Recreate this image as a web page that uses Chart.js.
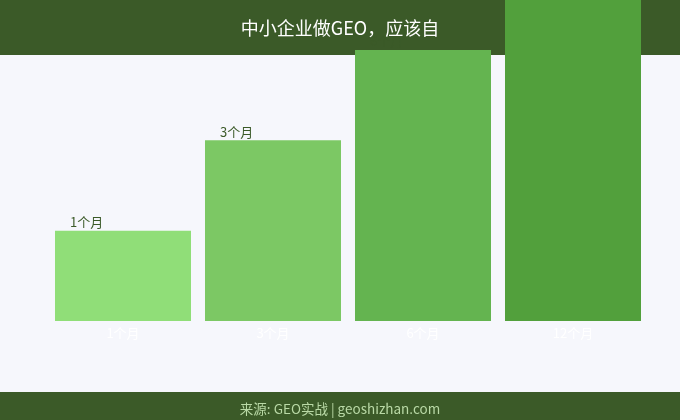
<!DOCTYPE html>
<html>
<head>
<meta charset="utf-8">
<script src="https://cdn.jsdelivr.net/npm/chart.js@4"></script>
<style>
  html, body { margin: 0; padding: 0; background: #f6f7fc; }
  #wrap { width: 680px; height: 420px; position: relative; }
</style>
</head>
<body>
<div id="wrap"><canvas id="chart" width="680" height="420"></canvas></div>
<script>
const titleText = '中小企业做GEO，应该自';
const sourceText = '来源: GEO实战 | geoshizhan.com';
const categories = ['1个月', '3个月', '6个月', '12个月'];
const values = [1, 2, 3, 4];
const barColors = ['#90de78', '#7cc864', '#64b450', '#52a03c'];

const FONT = '"Noto Sans CJK SC", "Noto Sans", sans-serif';

// header / footer bands are painted before the bars so bars can run over them
const framePlugin = {
    id: 'frame',
    beforeDraw(chart) {
        const ctx = chart.ctx;
        const w = chart.width, h = chart.height;
        ctx.save();
        ctx.fillStyle = '#f6f7fc';
        ctx.fillRect(0, 0, w, h);
        ctx.fillStyle = '#3b5a28';
        ctx.fillRect(0, 0, w, 55);
        ctx.fillRect(0, 392, w, h - 392);
        ctx.fillStyle = '#ffffff';
        ctx.font = '18px ' + FONT;
        ctx.textAlign = 'center';
        ctx.textBaseline = 'middle';
        ctx.fillText(titleText, w / 2, 28);
        ctx.fillStyle = '#b9d9a6';
        ctx.font = '13.5px ' + FONT;
        ctx.fillText(sourceText, w / 2, 409);
        ctx.restore();
    },
    afterDatasetsDraw(chart) {
        const ctx = chart.ctx;
        const meta = chart.getDatasetMeta(0);
        ctx.save();
        ctx.fillStyle = '#3b5a28';
        ctx.font = '13px ' + FONT;
        ctx.textAlign = 'left';
        ctx.textBaseline = 'bottom';
        meta.data.forEach((bar, i) => {
            const left = bar.x - bar.width / 2;
            ctx.fillText(categories[i], left + 15, bar.y - 2);
        });
        ctx.restore();
    }
};

new Chart(document.getElementById('chart'), {
    type: 'bar',
    data: {
        labels: categories,
        datasets: [{
            data: values,
            backgroundColor: barColors,
            borderWidth: 0,
            barPercentage: 1,
            categoryPercentage: 0.9067,
            clip: false
        }]
    },
    options: {
        responsive: false,
        animation: false,
        layout: { padding: { left: 48, right: 32, top: 50, bottom: 0 } },
        plugins: {
            legend: { display: false },
            title: { display: false },
            tooltip: { enabled: false }
        },
        scales: {
            x: {
                grid: { display: false, drawTicks: false },
                border: { display: false },
                ticks: {
                    color: '#ffffff',
                    font: { family: FONT, size: 13 },
                    padding: 4
                },
                afterFit(scale) { scale.height = 99; }
            },
            y: {
                display: false,
                min: 0,
                max: 3,
                afterFit(scale) { scale.width = 0; }
            }
        }
    },
    plugins: [framePlugin]
});
</script>
</body>
</html>
